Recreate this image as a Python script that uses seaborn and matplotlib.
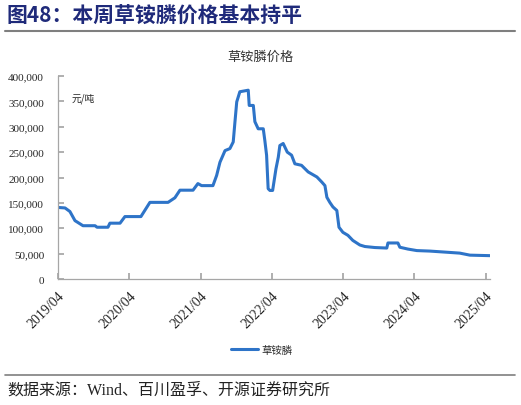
import matplotlib
matplotlib.use("Agg")
import matplotlib.pyplot as plt
import seaborn as sns
import pandas as pd

# ---- data ----
dates = [
    "2019-04-01", "2019-05-07", "2019-06-01", "2019-06-27", "2019-08-07",
    "2019-10-08", "2019-10-18", "2019-12-13", "2019-12-23", "2020-02-13",
    "2020-03-09", "2020-05-30", "2020-07-15", "2020-10-16", "2020-11-20",
    "2020-12-16", "2021-02-21", "2021-03-18", "2021-04-06", "2021-06-03",
    "2021-06-22", "2021-07-09", "2021-08-04", "2021-08-29", "2021-09-15",
    "2021-09-24", "2021-10-03", "2021-10-19", "2021-12-01", "2021-12-06",
    "2021-12-27", "2022-01-04", "2022-01-21", "2022-02-16", "2022-02-24",
    "2022-03-05", "2022-03-13", "2022-03-22", "2022-04-05", "2022-04-22",
    "2022-05-04", "2022-05-12", "2022-05-29", "2022-06-19", "2022-07-11",
    "2022-07-28", "2022-08-31", "2022-10-04", "2022-11-18", "2022-12-13",
    "2022-12-29", "2023-01-08", "2023-01-23", "2023-02-08", "2023-02-28",
    "2023-03-11", "2023-03-31", "2023-04-26", "2023-05-21", "2023-06-26",
    "2023-07-22", "2023-09-11", "2023-11-11", "2023-11-17", "2024-01-07",
    "2024-01-17", "2024-02-27", "2024-04-13", "2024-06-19", "2024-09-04",
    "2024-11-19", "2025-01-10", "2025-04-22",
]
prices = [
    141000, 140000, 133000, 115000, 105000,
    105000, 102000, 102000, 110000, 110000,
    123000, 123000, 151000, 151000, 160000,
    175000, 175000, 188000, 184000, 184000,
    204000, 230000, 253000, 257000, 270000,
    310000, 349000, 369000, 372000, 342000,
    342000, 310000, 296000, 296000, 273000,
    244000, 178000, 174500, 174500, 217000,
    240000, 263000, 267000, 250000, 244000,
    227000, 224000, 211000, 201000, 191000,
    184000, 161000, 151000, 142000, 135000,
    102000, 92000, 86000, 76000, 67000,
    64000, 62000, 61000, 71000, 71000,
    62600, 59000, 56000, 55000, 53000,
    51000, 47000, 46000,
]
yticks = [0, 50000, 100000, 150000, 200000, 250000, 300000, 350000, 400000]
xtick_dates = ["2019-04-01", "2020-04-01", "2021-04-01", "2022-04-01",
               "2023-04-01", "2024-04-01", "2025-04-01"]
xtick_labels = ["2019/04", "2020/04", "2021/04", "2022/04",
                "2023/04", "2024/04", "2025/04"]
series_name = "草铵膦"
chart_title = "草铵膦价格"
fig_title = "图48：本周草铵膦价格基本持平"
unit_label = "元/吨"
source_text = "数据来源：Wind、百川盈孚、开源证券研究所"

df = pd.DataFrame({"date": pd.to_datetime(dates), "price": prices, "series": series_name})

sns.set_theme(style="white")
plt.rcParams["font.family"] = ["Liberation Serif", "Noto Sans CJK SC", "DejaVu Sans"]

W, H = 521, 406
fig = plt.figure(figsize=(W / 100, H / 100), dpi=100)
ax = fig.add_axes([58 / W, 1 - 280 / H, (490 - 58) / W, (280 - 77) / H])

sns.lineplot(data=df, x="date", y="price", hue="series", palette=["#2E74C8"],
             linewidth=2.2, ax=ax, legend=True)

ax.set_xlim(pd.Timestamp("2019-04-01"), pd.Timestamp("2025-04-23"))
ax.set_ylim(0, 400000)
ax.set_yticks(yticks)
ax.set_yticklabels([f"{v:,}" for v in yticks], fontsize=8, family=["Liberation Serif"])
ax.set_xticks(pd.to_datetime(xtick_dates))
ax.set_xticklabels(xtick_labels, rotation=45, ha="right", rotation_mode="anchor",
                   fontsize=10, family=["Liberation Serif"])
ax.set_xlabel("")
ax.set_ylabel("")
for s in ["top", "right"]:
    ax.spines[s].set_visible(False)
for s in ["left", "bottom"]:
    ax.spines[s].set_color("#A6A6A6")
    ax.spines[s].set_linewidth(0.9)
ax.tick_params(axis="y", direction="in", length=4, color="#A6A6A6", pad=10, left=True)
ax.tick_params(axis="x", direction="in", length=4, color="#A6A6A6", pad=7, bottom=True)
ax.grid(False)

fig.text(72 / W, 1 - 99 / H, unit_label, fontsize=7,
         family=["Noto Sans CJK SC"], va="center", ha="left")

fig.text(260 / W, 1 - 57 / H, chart_title, fontsize=9.5, ha="center", va="center",
         family=["Noto Sans CJK SC"], color="#333333")

# legend at bottom
handles, labels = ax.get_legend_handles_labels()
ax.legend(handles, labels, loc="center", bbox_to_anchor=(262 / W, 1 - 351 / H),
          bbox_transform=fig.transFigure, frameon=False,
          prop={"family": ["Noto Sans CJK SC"], "size": 7.5},
          handlelength=2.6, handletextpad=0.3)

# figure title & rules
fig.text(7 / W, 1 - 16 / H, fig_title, fontsize=15, fontweight="bold",
         color="#1F2A7A", ha="left", va="center",
         family=["Noto Sans CJK SC"])
fig.add_artist(plt.Line2D([5 / W, 515 / W], [1 - 32 / H, 1 - 32 / H],
                          transform=fig.transFigure, color="#7F7F7F", linewidth=1.5))
fig.add_artist(plt.Line2D([5 / W, 515 / W], [1 - 376 / H, 1 - 376 / H],
                          transform=fig.transFigure, color="#7F7F7F", linewidth=1.2))
fig.text(7 / W, 1 - 391 / H, source_text, fontsize=11.5, ha="left", va="center",
         family=["Liberation Serif", "Noto Sans CJK SC"], color="#222222")

fig.savefig("out.png", dpi=100)
